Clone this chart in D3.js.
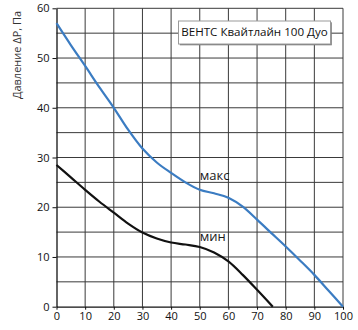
<!DOCTYPE html>
<html>
<head>
<meta charset="utf-8">
<script src="https://cdn.jsdelivr.net/npm/d3@7"></script>
<style>
  html, body { margin: 0; padding: 0; background: #fff; }
  svg { display: block; font-family: "Open Sans", "Noto Sans", sans-serif; }
</style>
</head>
<body>
<svg id="chart" width="358" height="330"></svg>
<script>
// Fan pressure curves: air flow (m³/h) vs. pressure drop ΔP (Pa)
const flowMax = [0, 5, 10, 15, 20, 25, 30, 35, 40, 45, 50, 55, 60, 65, 70, 75, 80, 85, 90, 95, 100];
const pressMax = [57, 52.6, 48.4, 44.1, 40, 35.6, 31.8, 29, 26.9, 25, 23.5, 22.8, 21.9, 20.1, 17.5, 14.8, 12.1, 9.3, 6.4, 3.2, 0];
const flowMin = [0, 5, 10, 15, 20, 25, 30, 35, 40, 45, 50, 55, 60, 65, 70, 75.5];
const pressMin = [28.5, 26, 23.5, 21.1, 18.9, 16.7, 14.9, 13.7, 12.9, 12.5, 12, 10.9, 9.1, 6.4, 3.4, 0];
const xTicks = [0, 10, 20, 30, 40, 50, 60, 70, 80, 90, 100];
const yTicks = [0, 10, 20, 30, 40, 50, 60];
const yGrid = [5, 10, 15, 20, 25, 30, 35, 40, 45, 50, 55, 60];
const title = "ВЕНТС Квайтлайн 100 Дуо";
const yLabel = "Давление  ΔP, Па";
const seriesLabels = ["макс", "мин"];

const svg = d3.select("#chart");
const x = d3.scaleLinear().domain([0, 100]).range([56.5, 343]);
const y = d3.scaleLinear().domain([0, 60]).range([306.7, 8.3]);

// grid
const grid = svg.append("g").attr("stroke", "#3a3a3a").attr("stroke-width", 1);
grid.selectAll("line.v").data(xTicks.slice(1)).join("line")
  .attr("x1", d => x(d)).attr("x2", d => x(d))
  .attr("y1", y(0)).attr("y2", y(60));
grid.selectAll("line.h").data(yGrid).join("line")
  .attr("x1", x(0)).attr("x2", x(100))
  .attr("y1", d => y(d)).attr("y2", d => y(d));

// axes
const xAxis = svg.append("g").attr("transform", `translate(0,${y(0)})`)
  .call(d3.axisBottom(x).tickValues(xTicks).tickSize(3).tickPadding(3).tickSizeOuter(0));
const yAxis = svg.append("g").attr("transform", `translate(${x(0)},0)`)
  .call(d3.axisLeft(y).tickValues(yTicks).tickSize(4).tickPadding(3).tickSizeOuter(0));
[xAxis, yAxis].forEach(a => {
  a.select(".domain").attr("stroke", "#111").attr("stroke-width", 1.3);
  a.selectAll(".tick line").attr("stroke", "#111");
  a.selectAll(".tick text").attr("fill", "#111").style("font-size", "11px")
    .style("font-family", "'Open Sans', sans-serif");
});

// curves
const line = d3.line().x(d => x(d[0])).y(d => y(d[1])).curve(d3.curveMonotoneX);
svg.append("path").datum(d3.zip(flowMax, pressMax))
  .attr("d", line).attr("fill", "none").attr("stroke", "#3b7cc2").attr("stroke-width", 2.2);
svg.append("path").datum(d3.zip(flowMin, pressMin))
  .attr("d", line).attr("fill", "none").attr("stroke", "#111").attr("stroke-width", 2.2);

// series labels
svg.append("text").attr("x", x(50)).attr("y", y(25.5)).text(seriesLabels[0])
  .attr("fill", "#1a1a1a").style("font-size", "13px");
svg.append("text").attr("x", x(50)).attr("y", y(13.2)).text(seriesLabels[1])
  .attr("fill", "#1a1a1a").style("font-size", "13px");

// title box with a thin drop shadow
const bx = 178.5, by = 21, bw = 152, bh = 23;
svg.append("rect").attr("x", bx + 1.3).attr("y", by + 1.3).attr("width", bw).attr("height", bh)
  .attr("fill", "#7a7a7a");
svg.append("rect").attr("x", bx).attr("y", by).attr("width", bw).attr("height", bh)
  .attr("fill", "#fff").attr("stroke", "#9a9a9a").attr("stroke-width", 1);
svg.append("text").attr("x", bx + bw / 2).attr("y", by + 15).attr("text-anchor", "middle")
  .text(title).attr("fill", "#111").style("font-size", "11.6px");

// y-axis title
svg.append("text").attr("transform", `translate(21,55) rotate(-90)`)
  .attr("text-anchor", "middle").text(yLabel)
  .attr("fill", "#333").style("font-size", "11px");
</script>
</body>
</html>
